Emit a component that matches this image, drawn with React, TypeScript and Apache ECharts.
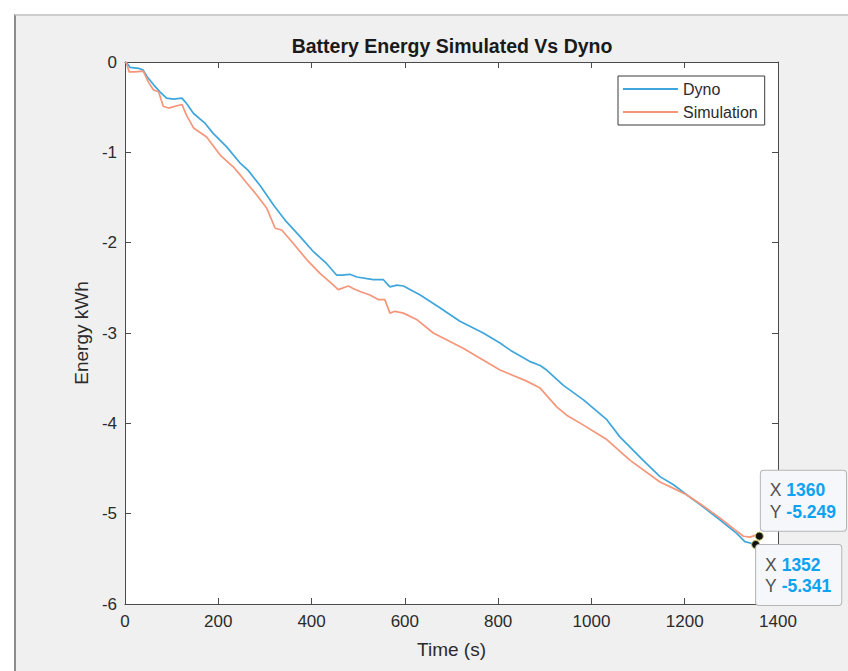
import React, { useEffect, useRef } from "react";
import * as echarts from "echarts";

const xTicks = [0, 200, 400, 600, 800, 1000, 1200, 1400];
const yTicks = [0, -1, -2, -3, -4, -5, -6];

const dynoTime = [0, 4, 11, 29, 39, 47, 61, 75, 89, 104, 122, 132, 147, 172, 189, 218, 247, 264, 290, 318, 343, 375, 404, 432, 454, 465, 482, 497, 532, 554, 568, 583, 597, 633, 675, 718, 768, 804, 826, 870, 890, 904, 940, 983, 1033, 1061, 1111, 1147, 1176, 1204, 1233, 1276, 1312, 1329, 1344, 1352];
const dynoEnergy = [0, -0.01, -0.06, -0.07, -0.09, -0.16, -0.25, -0.33, -0.40, -0.41, -0.40, -0.46, -0.57, -0.68, -0.79, -0.94, -1.12, -1.20, -1.37, -1.58, -1.75, -1.93, -2.10, -2.23, -2.36, -2.36, -2.35, -2.38, -2.41, -2.41, -2.49, -2.47, -2.48, -2.58, -2.72, -2.87, -3.00, -3.11, -3.19, -3.32, -3.36, -3.41, -3.58, -3.74, -3.96, -4.15, -4.41, -4.59, -4.68, -4.79, -4.90, -5.07, -5.22, -5.31, -5.33, -5.341];

const simTime = [0, 3, 9, 21, 39, 50, 61, 72, 82, 93, 122, 132, 147, 175, 204, 232, 247, 261, 282, 304, 322, 336, 361, 390, 418, 447, 457, 479, 490, 504, 525, 543, 557, 568, 579, 597, 625, 661, 725, 804, 860, 890, 926, 947, 983, 1033, 1083, 1147, 1176, 1204, 1233, 1276, 1308, 1326, 1340, 1351, 1360];
const simEnergy = [0, -0.01, -0.11, -0.11, -0.10, -0.22, -0.31, -0.33, -0.49, -0.51, -0.47, -0.59, -0.73, -0.83, -1.03, -1.16, -1.25, -1.34, -1.47, -1.62, -1.84, -1.86, -2.01, -2.19, -2.34, -2.47, -2.52, -2.48, -2.51, -2.54, -2.58, -2.63, -2.63, -2.78, -2.76, -2.78, -2.85, -3.00, -3.17, -3.41, -3.53, -3.61, -3.82, -3.91, -4.02, -4.18, -4.41, -4.65, -4.72, -4.79, -4.89, -5.05, -5.18, -5.25, -5.26, -5.24, -5.249];

const dynoTip = { x: 1352, y: -5.341 };
const simTip = { x: 1360, y: -5.249 };

const FONT = "'Liberation Sans', Arial, Helvetica, sans-serif";
const AXIS_COLOR = "#4a4a4a";
const TEXT_COLOR = "#2b2b2b";
const BLUE = "#3fa6dc";
const ORANGE = "#f5967a";

function tipLabel(tip: { x: number; y: number }, position: number[]) {
  return {
    show: true,
    position,
    align: "left",
    verticalAlign: "top",
    formatter: `X {v|${tip.x}}\nY {v|${tip.y.toFixed(3)}}`,
    fontFamily: FONT,
    fontSize: 17.5,
    lineHeight: 21.5,
    color: "#505050",
    backgroundColor: "#f6f7fb",
    borderColor: "#b5b5b5",
    borderWidth: 1,
    borderRadius: 3,
    padding: [9, 10, 8, 9],
    rich: {
      v: {
        fontFamily: FONT,
        fontSize: 17.5,
        lineHeight: 21.5,
        fontWeight: "bold",
        color: "#0ea2f0",
      },
    },
  };
}

export default function App() {
  const ref = useRef<HTMLDivElement>(null);
  useEffect(() => {
    if (!ref.current) return;
    const chart = echarts.init(ref.current, undefined, { renderer: "svg" });
    const xMin = Math.min(...xTicks);
    const xMax = Math.max(...xTicks);
    const yMin = Math.min(...yTicks);
    const yMax = Math.max(...yTicks);
    const tickCommon = { show: true, inside: true, length: 6, lineStyle: { color: AXIS_COLOR, width: 1 } };
    const lineCommon = { show: true, onZero: false, lineStyle: { color: AXIS_COLOR, width: 1 } };
    const plain = (v: number) => String(v);
    chart.setOption({
      animation: false,
      backgroundColor: "transparent",
      textStyle: { fontFamily: FONT },
      title: {
        text: "Battery Energy Simulated Vs Dyno",
        left: 447,
        top: 31,
        textAlign: "center",
        textStyle: { fontFamily: FONT, fontSize: 19.5, fontWeight: "bold", color: "#1a1a1a" },
      },
      legend: {
        data: ["Dyno", "Simulation"],
        orient: "vertical",
        left: 618,
        top: 76,
        padding: [4, 7, 4, 5],
        itemGap: 5,
        itemWidth: 55,
        itemHeight: 2,
        icon: "rect",
        backgroundColor: "#ffffff",
        borderColor: "#3a3a3a",
        borderWidth: 1,
        textStyle: { fontFamily: FONT, fontSize: 16, color: TEXT_COLOR, lineHeight: 18 },
      },
      grid: {
        left: 125,
        top: 62,
        right: 70,
        bottom: 67,
        show: true,
        backgroundColor: "#ffffff",
        borderWidth: 0,
      },
      xAxis: [
        {
          type: "value",
          min: xMin,
          max: xMax,
          interval: 200,
          position: "bottom",
          name: "Time (s)",
          nameLocation: "middle",
          nameGap: 36,
          nameTextStyle: { fontFamily: FONT, fontSize: 19, color: TEXT_COLOR },
          axisLine: lineCommon,
          axisTick: tickCommon,
          axisLabel: { fontFamily: FONT, fontSize: 17, color: TEXT_COLOR, margin: 9, formatter: plain },
          splitLine: { show: false },
        },
        {
          type: "value",
          min: xMin,
          max: xMax,
          interval: 200,
          position: "top",
          axisLine: lineCommon,
          axisTick: tickCommon,
          axisLabel: { show: false },
          splitLine: { show: false },
        },
      ],
      yAxis: [
        {
          type: "value",
          min: yMin,
          max: yMax,
          interval: 1,
          position: "left",
          name: "Energy kWh",
          nameLocation: "middle",
          nameGap: 25,
          nameTextStyle: { fontFamily: FONT, fontSize: 19, color: TEXT_COLOR },
          axisLine: lineCommon,
          axisTick: tickCommon,
          axisLabel: { fontFamily: FONT, fontSize: 17, color: TEXT_COLOR, margin: 8, formatter: plain },
          splitLine: { show: false },
        },
        {
          type: "value",
          min: yMin,
          max: yMax,
          interval: 1,
          position: "right",
          axisLine: lineCommon,
          axisTick: tickCommon,
          axisLabel: { show: false },
          splitLine: { show: false },
        },
      ],
      series: [
        {
          name: "Dyno",
          type: "line",
          xAxisIndex: 0,
          yAxisIndex: 0,
          symbol: "none",
          color: BLUE,
          lineStyle: { color: BLUE, width: 1.7 },
          data: dynoTime.map((t, i) => [t, dynoEnergy[i]]),
          markPoint: {
            symbol: "circle",
            symbolSize: 8,
            itemStyle: { color: "#111111", borderColor: "#bfbf60", borderWidth: 1 },
            data: [{ coord: [dynoTip.x, dynoTip.y], label: tipLabel(dynoTip, [5, 5]) }],
          },
        },
        {
          name: "Simulation",
          type: "line",
          xAxisIndex: 0,
          yAxisIndex: 0,
          symbol: "none",
          color: ORANGE,
          lineStyle: { color: ORANGE, width: 1.7 },
          data: simTime.map((t, i) => [t, simEnergy[i]]),
          markPoint: {
            symbol: "circle",
            symbolSize: 8,
            itemStyle: { color: "#111111", borderColor: "#bfbf60", borderWidth: 1 },
            data: [{ coord: [simTip.x, simTip.y], label: tipLabel(simTip, [6, -61]) }],
          },
        },
      ],
    });
    return () => chart.dispose();
  }, []);

  return (
    <div style={{ position: "fixed", left: 0, top: 0, width: 848, height: 671, background: "#ffffff", overflow: "hidden" }}>
      <div
        style={{
          position: "absolute",
          left: 14,
          top: 14,
          right: 0,
          bottom: 0,
          background: "#f0f0f0",
          borderLeft: "2px solid #8c8c8c",
          borderTop: "2px solid #cdcdcd",
        }}
      />
      <div ref={ref} style={{ position: "absolute", left: 0, top: 0, width: 848, height: 671 }} />
    </div>
  );
}
